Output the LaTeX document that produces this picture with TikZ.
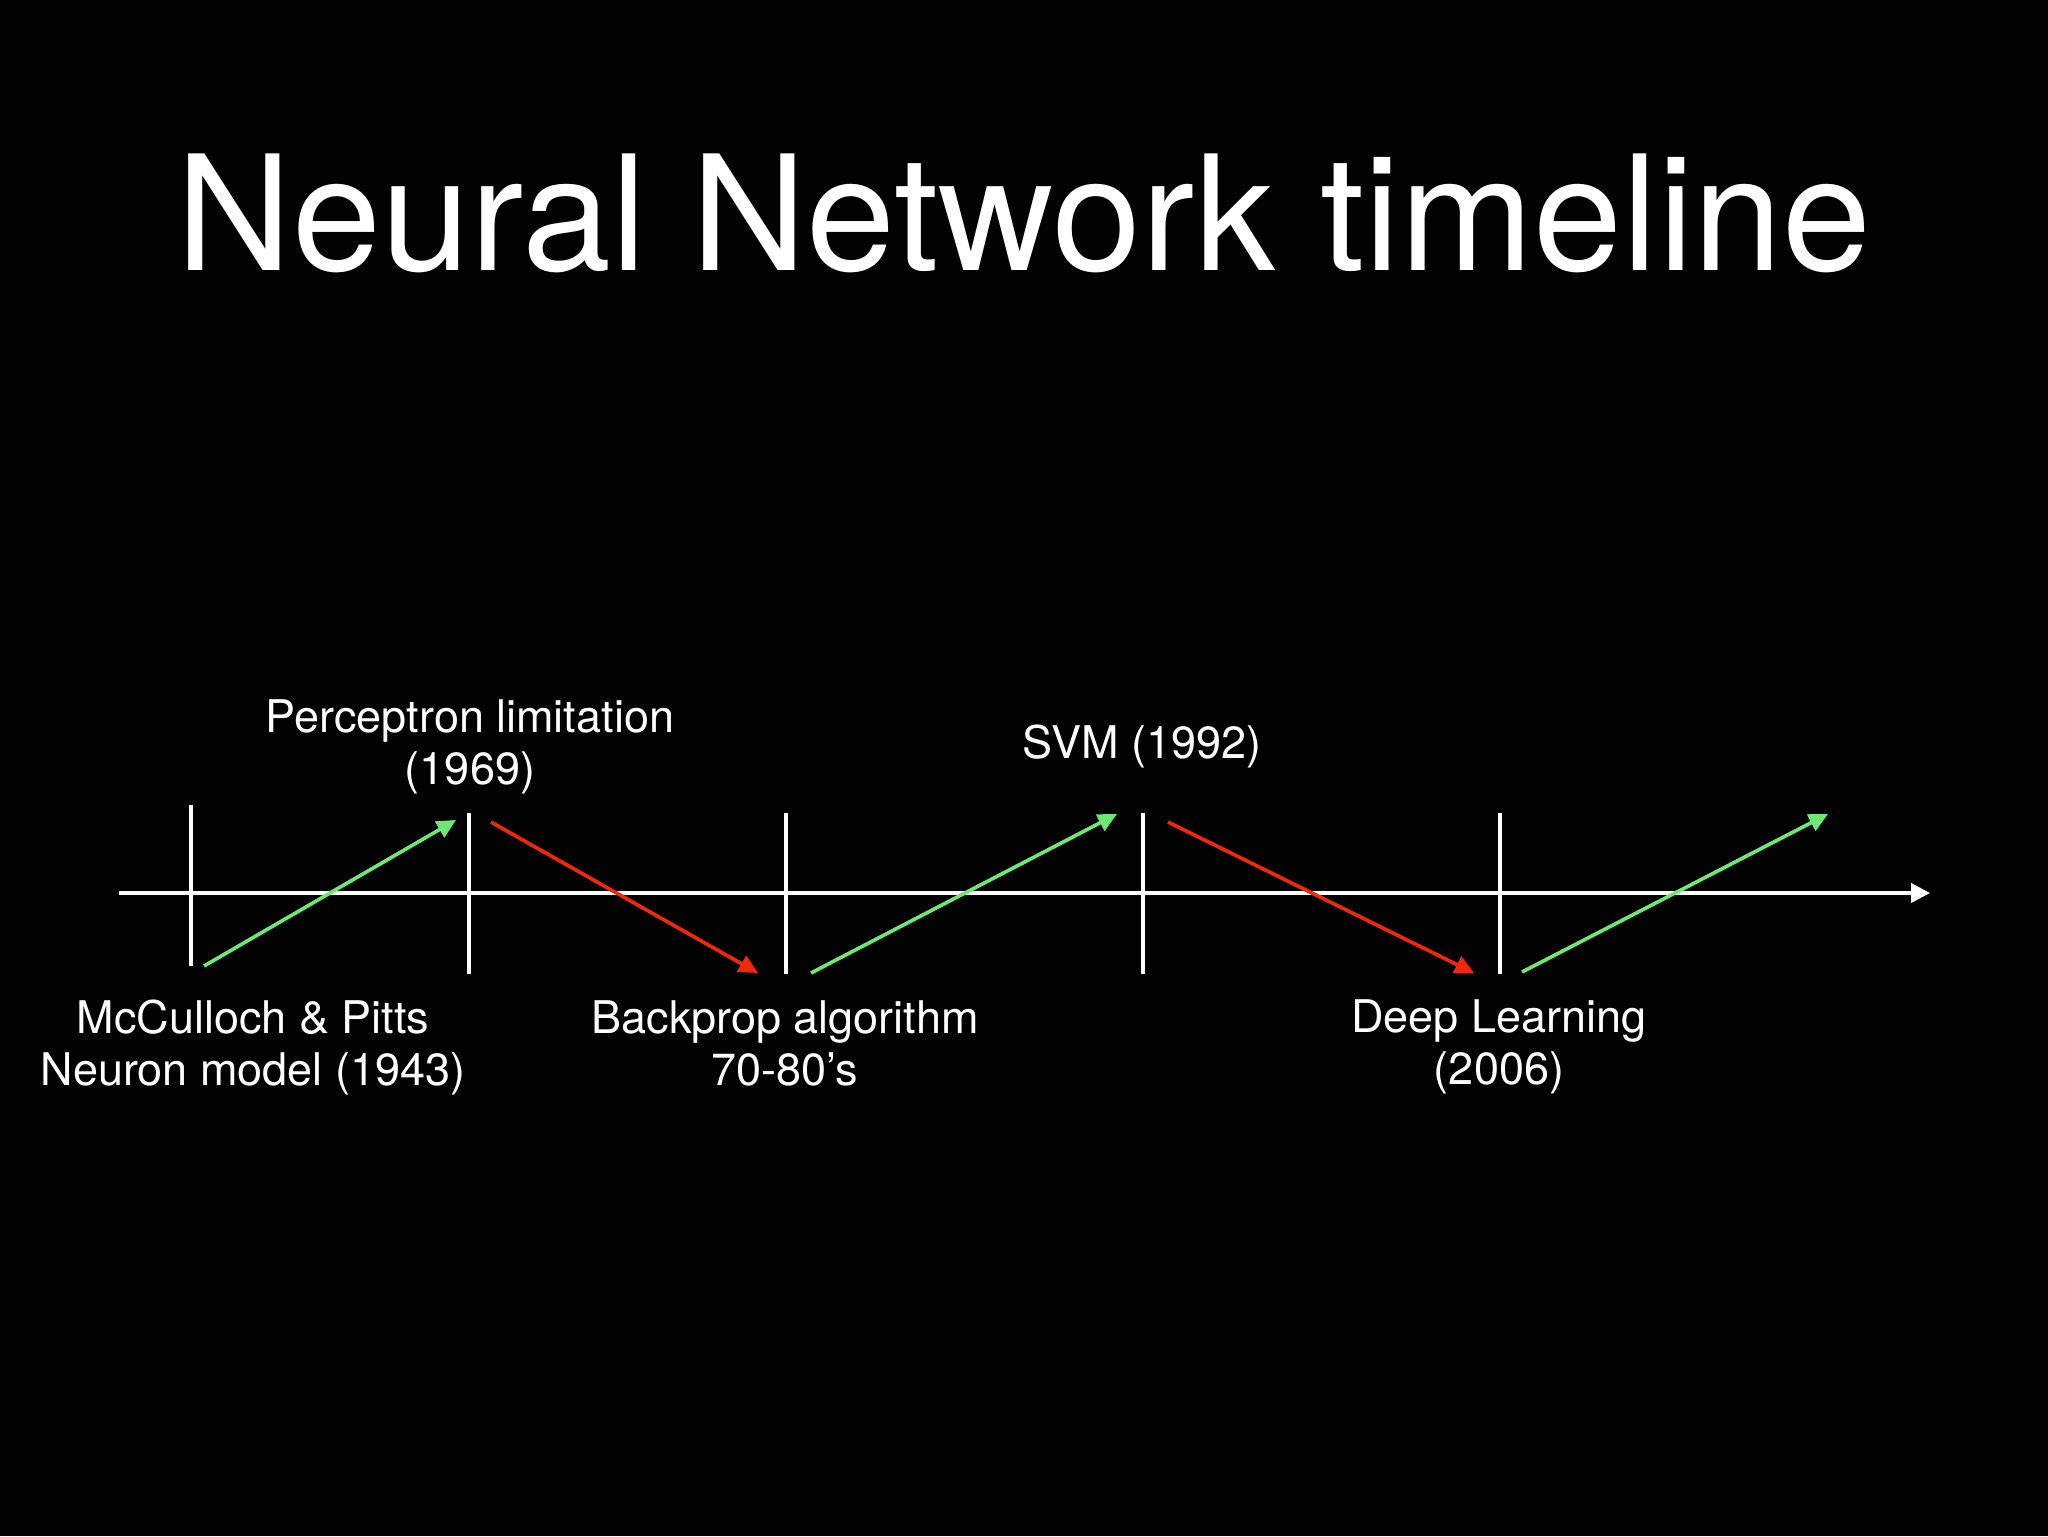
\documentclass[tikz,border=0pt]{standalone}
\usepackage{fontspec}
\setmainfont{TeX Gyre Heros}
\usetikzlibrary{arrows.meta}
\definecolor{upgreen}{RGB}{110,232,115}
\definecolor{downred}{RGB}{240,40,12}
\definecolor{bgblack}{RGB}{2,2,2}
\tikzset{
  axisline/.style={white,line width=2pt,-{Triangle[length=9.5pt,width=9.5pt]}},
  tickline/.style={white,line width=1.8pt},
  risearrow/.style={upgreen,line width=1.8pt,-{Triangle[length=9.5pt,width=9pt]}},
  fallarrow/.style={downred,line width=1.8pt,-{Triangle[length=9.5pt,width=9pt]}},
  evtlabel/.style={text=white,align=center,inner sep=0pt,font=\fontsize{22.5}{26}\selectfont},
  titletext/.style={text=white,inner sep=0pt,font=\fontsize{80}{96}\selectfont}
}
\begin{document}
\begin{tikzpicture}[x=0.5pt,y=-0.5pt]
  \fill[bgblack] (0,0) rectangle (2048,1536);
  \useasboundingbox (0,0) rectangle (2048,1536);
  % title
  \node[titletext,anchor=base] (title) at (1024,270) {Neural Network timeline};
  % axis
  \coordinate (axstart) at (119,893);
  \coordinate (axend) at (1930,893);
  \draw[axisline] (axstart) -- (axend);
  % ticks
  \coordinate (t1top) at (191,805);  \coordinate (t1bot) at (191,966);
  \coordinate (t2top) at (469,813);  \coordinate (t2bot) at (469,974);
  \coordinate (t3top) at (786,813);  \coordinate (t3bot) at (786,974);
  \coordinate (t4top) at (1143,813); \coordinate (t4bot) at (1143,974);
  \coordinate (t5top) at (1500,813); \coordinate (t5bot) at (1500,974);
  \draw[tickline] (t1top) -- (t1bot);
  \draw[tickline] (t2top) -- (t2bot);
  \draw[tickline] (t3top) -- (t3bot);
  \draw[tickline] (t4top) -- (t4bot);
  \draw[tickline] (t5top) -- (t5bot);
  % trend arrows
  \coordinate (g1s) at (204,966);  \coordinate (g1e) at (456,820);
  \coordinate (r1s) at (491,822);  \coordinate (r1e) at (758,973);
  \coordinate (g2s) at (811,973);  \coordinate (g2e) at (1117,814);
  \coordinate (r2s) at (1168,822); \coordinate (r2e) at (1474,973);
  \coordinate (g3s) at (1522,972); \coordinate (g3e) at (1828,814);
  \draw[risearrow] (g1s) -- (g1e);
  \draw[fallarrow] (r1s) -- (r1e);
  \draw[risearrow] (g2s) -- (g2e);
  \draw[fallarrow] (r2s) -- (r2e);
  \draw[risearrow] (g3s) -- (g3e);
  % labels
  \node[evtlabel] (mcp) at (253,1047) {McCulloch \& Pitts\\Neuron model (1943)};
  \node[evtlabel] (perc) at (470,747) {Perceptron limitation\\(1969)};
  \node[evtlabel] (bprop) at (785,1043) {Backprop algorithm\\70-80’s};
  \node[evtlabel] (svm) at (1142,746) {SVM (1992)};
  \node[evtlabel] (deep) at (1499,1047) {Deep Learning\\(2006)};
\end{tikzpicture}
\end{document}
